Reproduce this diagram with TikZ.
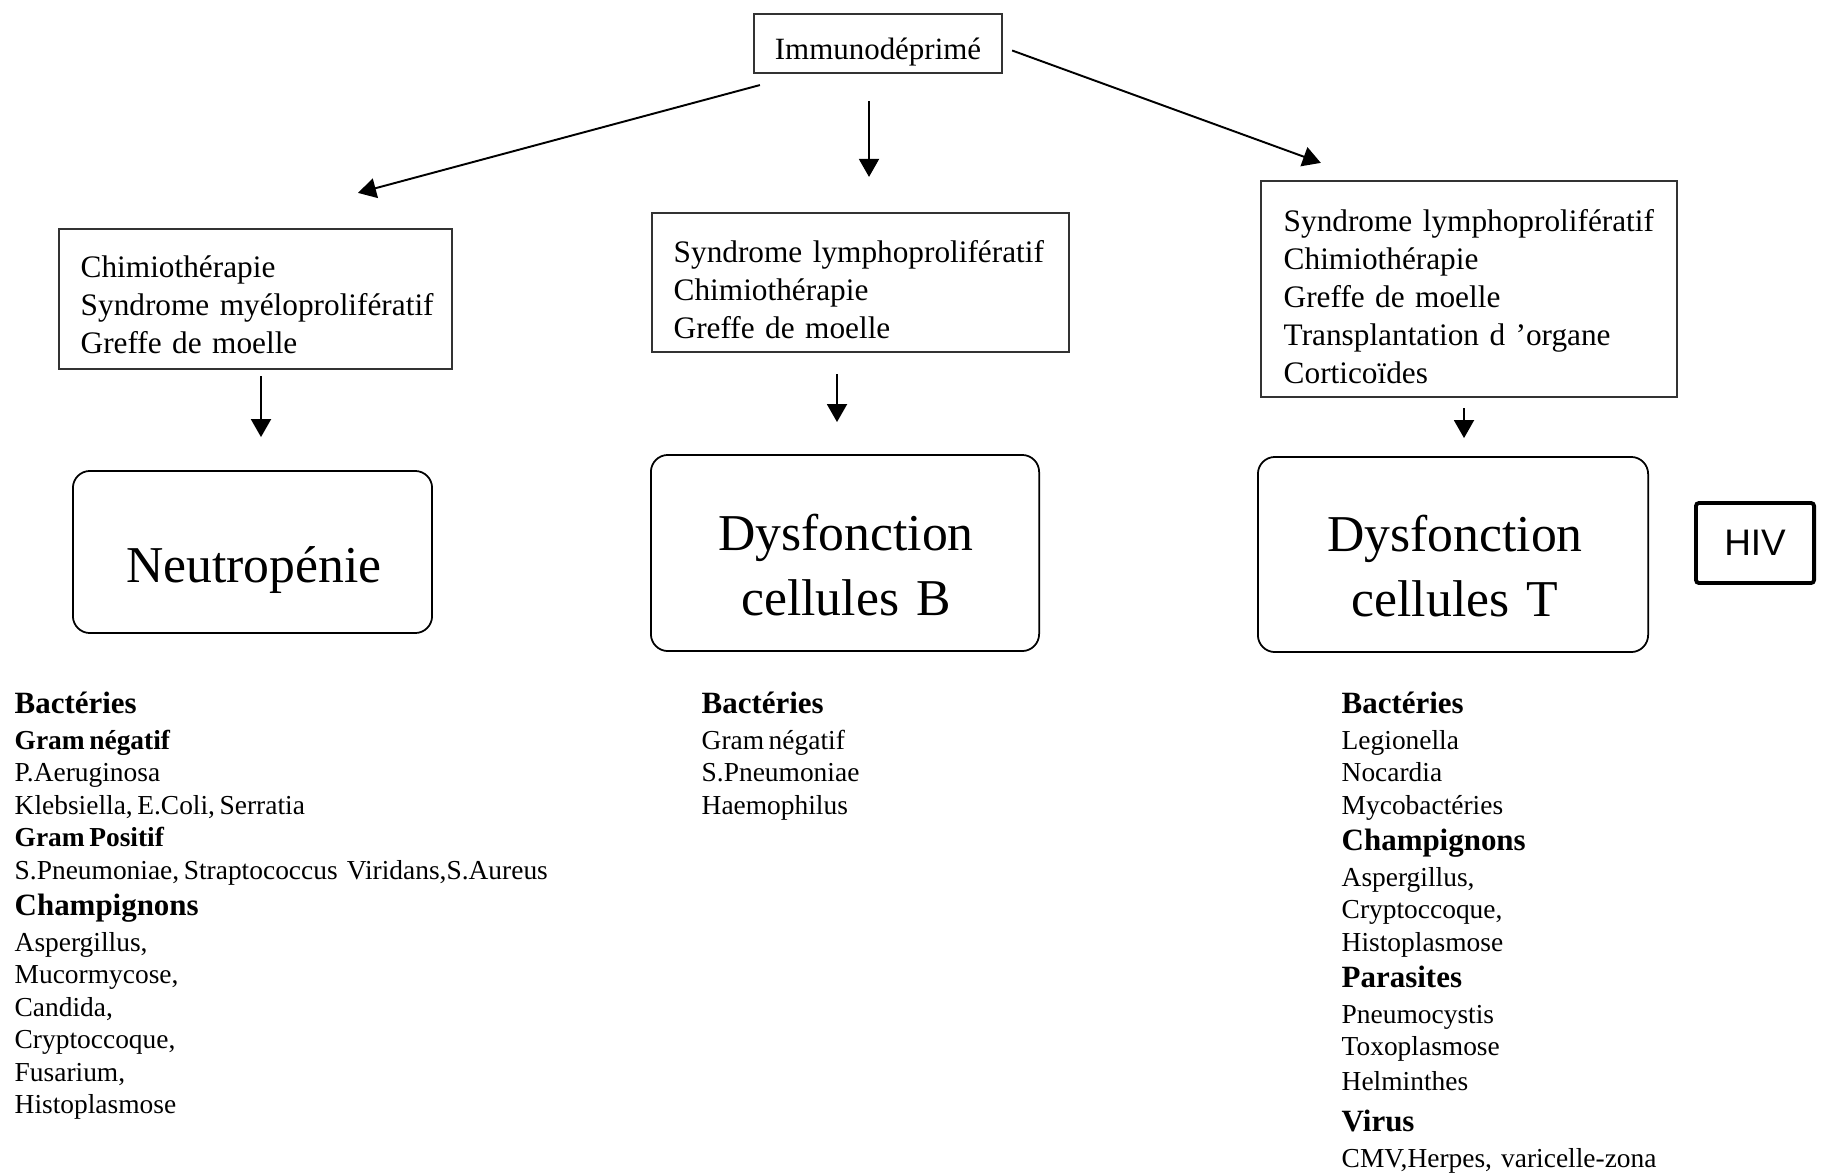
\documentclass[tikz,border=0pt]{standalone}
\usepackage{fontspec}
\setmainfont{Liberation Serif}
\newfontfamily\hivschrift{Liberation Sans}
\usetikzlibrary{arrows.meta}

\tikzset{
	pfeil/.style={-{Triangle[length=1.8mm,width=2mm]}, line width=0.55pt},
	kasten/.style={draw=black!80, line width=0.6pt},
	defekt/.style={draw, line width=0.5pt, rounded corners=0.17cm},
	ursache/.style={anchor=base west, inner sep=0pt, align=left, text width=3.9cm,
		font=\fontsize{8.9}{10.85}\selectfont},
	gross/.style={anchor=base, inner sep=0pt, align=center, text width=3.8cm,
		font=\fontsize{14.7}{18.7}\selectfont},
	keime/.style={anchor=base west, inner sep=0pt, align=left,
		font=\fontsize{7.8}{9.25}\selectfont},
}
\newcommand{\rubrik}[1]{{\fontsize{8.8}{9.25}\selectfont\bfseries #1}}

\begin{document}
\begin{tikzpicture}[x=0.01cm, y=-0.01cm]
	\useasboundingbox (0,0) rectangle (1822,1173);
	% Kasten oben
	\node[kasten, minimum width=2.48cm, minimum height=0.59cm] (immuno) at (878,43.5) {};
	\node[anchor=base, inner sep=0pt, font=\fontsize{8.8}{10}\selectfont] (immunotext) at (878,60) {Immunodéprimé};

	% Ursachen
	\node[kasten, minimum width=3.93cm, minimum height=1.40cm] (ursn) at (255.5,299) {};
	\node[ursache] (ursntext) at (80,277)
		{Chimiothérapie\\Syndrome myéloprolifératif\\Greffe de moelle};
	\node[kasten, minimum width=4.17cm, minimum height=1.39cm] (ursb) at (860.5,282.5) {};
	\node[ursache] (ursbtext) at (673,262)
		{Syndrome lymphoprolifératif\\Chimiothérapie\\Greffe de moelle};
	\node[kasten, minimum width=4.16cm, minimum height=2.16cm] (urst) at (1469,289) {};
	\node[ursache] (ursttext) at (1283,231)
		{Syndrome lymphoprolifératif\\Chimiothérapie\\Greffe de moelle\\Transplantation d 'organe\\Corticoïdes};

	% Defekte
	\node[defekt, minimum width=3.59cm, minimum height=1.62cm] (neutro) at (252.5,552) {};
	\node[gross] (neutrotext) at (254,582) {Neutropénie};
	\node[defekt, minimum width=3.88cm, minimum height=1.96cm] (dysb) at (845,553) {};
	\node[gross] (dysbtext) at (846,550) {Dysfonction\\cellules B};
	\node[defekt, minimum width=3.90cm, minimum height=1.95cm] (dyst) at (1453,554.5) {};
	\node[gross] (dysttext) at (1455,551) {Dysfonction\\cellules T};
	\node[draw, line width=1.1pt, rounded corners=0.03cm, minimum width=1.18cm, minimum height=0.8cm,
		font=\hivschrift\fontsize{10.5}{12}\selectfont] (hiv) at (1755,543) {HIV};

	% Pfeile
	\draw[pfeil] ([shift={(7,11)}]immuno.south west) -- ([shift={(102.5,-35)}]ursn.north);
	\draw[pfeil] ([shift={(-9,27)}]immuno.south) -- ([shift={(8.5,-35)}]ursb.north);
	\draw[pfeil] ([shift={(9,7)}]immuno.east) -- ([shift={(61,-17)}]urst.north west);
	\draw[pfeil] ([shift={(5.5,6)}]ursn.south) -- ([shift={(8.5,-33)}]neutro.north);
	\draw[pfeil] ([shift={(-23.5,21)}]ursb.south) -- ([shift={(-8,-32)}]dysb.north);
	\draw[pfeil] ([shift={(-5,10)}]urst.south) -- ([shift={(11,-18)}]dyst.north);

	% Keime
	\node[keime, text width=6cm] (keimen) at (14,713) {\rubrik{Bactéries}\\[1pt]
		{\bfseries Gram\,négatif}\\
		P.Aeruginosa\\
		Klebsiella,\,E.Coli,\,Serratia\\
		{\bfseries Gram\,Positif}\\
		S.Pneumoniae,\,Straptococcus Viridans,S.Aureus\\[1pt]
		\rubrik{Champignons}\\[1pt]
		Aspergillus,\\
		Mucormycose,\\
		Candida,\\
		Cryptoccoque,\\
		Fusarium,\\
		Histoplasmose};
	\node[keime, text width=3cm] (keimeb) at (701,713) {\rubrik{Bactéries}\\[1pt]
		Gram\,négatif\\
		S.Pneumoniae\\
		Haemophilus};
	\node[keime, text width=4cm] (keimet) at (1341,713) {\rubrik{Bactéries}\\[1pt]
		Legionella\\
		Nocardia\\
		Mycobactéries\\[1pt]
		\rubrik{Champignons}\\[1pt]
		Aspergillus,\\
		Cryptoccoque,\\
		Histoplasmose\\[1pt]
		\rubrik{Parasites}\\[1pt]
		Pneumocystis\\
		Toxoplasmose\\[0.5pt]
		Helminthes\\[2.5pt]
		\rubrik{Virus}\\[1pt]
		CMV,Herpes, varicelle-zona};
\end{tikzpicture}
\end{document}
